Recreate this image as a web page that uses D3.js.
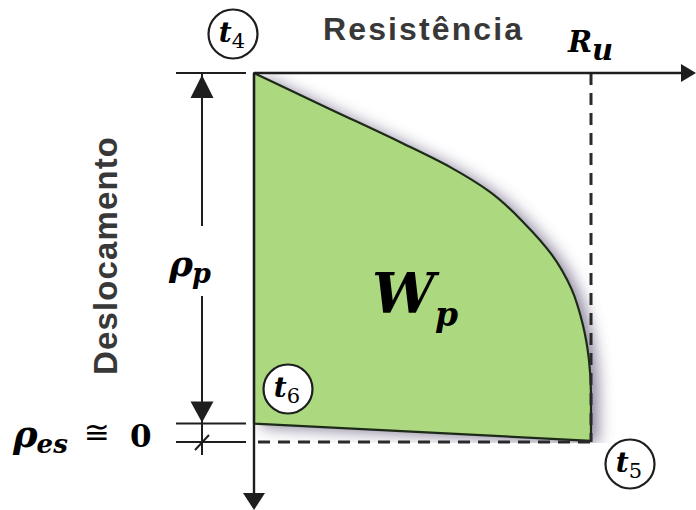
<!DOCTYPE html>
<html>
<head>
<meta charset="utf-8">
<script src="https://cdn.jsdelivr.net/npm/d3@7"></script>
<style>
  html, body { margin: 0; padding: 0; background: #fff; }
  svg { display: block; }
</style>
</head>
<body>
<svg id="chart" width="696" height="510"></svg>
<script>
// Plastic work region W_p: resistance (% of R_u) against displacement (% of total)
const resistance   = [0, 22.6, 43.3, 58.2, 70.0, 80.4, 88.4, 94.1, 97.6, 99.4, 100, 100];
const displacement = [0, 9.8, 18.7, 25.5, 32.2, 40.9, 49.3, 58.3, 68.3, 77.8, 87.3, 99.7];
// displacement where the region closes on the left axis (end of elastic part)
const elasticEnd = 95;
const ruValue = 100;
const totalDisp = 100;

const stageLabels = ["4", "5", "6"];
const axisTitles = { x: "Resistência", y: "Deslocamento" };

const svg = d3.select("#chart");
const x = d3.scaleLinear().domain([0, ruValue]).range([254, 591]);
const y = d3.scaleLinear().domain([0, totalDisp]).range([73, 442]);

const ink = "#1e1e1e";
const serif = "'DejaVu Serif', 'Liberation Serif', serif";
const sans = "'Liberation Sans', Arial, sans-serif";

const defs = svg.append("defs");
const blur = defs.append("filter").attr("id", "soft")
  .attr("x", "-20%").attr("y", "-20%").attr("width", "140%").attr("height", "140%");
blur.append("feGaussianBlur").attr("stdDeviation", 8);
defs.append("clipPath").attr("id", "plotClip")
  .append("rect").attr("x", x(0)).attr("y", y(0))
  .attr("width", 696 - x(0)).attr("height", y(totalDisp) + 1 - y(0));

// region outline: curved upper/right boundary then straight bottom edge back to the axis
const pts = resistance.map((r, i) => [r, displacement[i]]);
const curve = d3.line().x(d => x(d[0])).y(d => y(d[1])).curve(d3.curveMonotoneY);
const regionPath = curve(pts) + `L${x(0)},${y(elasticEnd)}Z`;

// soft shadow behind the region
svg.append("g").attr("clip-path", "url(#plotClip)")
  .append("path").attr("d", regionPath)
  .attr("transform", "translate(7,3)")
  .attr("fill", "#6a6080").attr("opacity", 0.8)
  .attr("filter", "url(#soft)");

svg.append("path").attr("d", regionPath)
  .attr("fill", "#acd880").attr("stroke", "#1d2a18").attr("stroke-width", 2.2)
  .attr("stroke-linejoin", "round");

// dashed guides at R_u and at total displacement
svg.append("line")
  .attr("x1", x(ruValue)).attr("x2", x(ruValue)).attr("y1", y(0)).attr("y2", y(totalDisp))
  .attr("stroke", "#2a2a2a").attr("stroke-width", 3).attr("stroke-dasharray", "12,8");
svg.append("line")
  .attr("x1", x(0) + 4).attr("x2", x(ruValue)).attr("y1", y(totalDisp)).attr("y2", y(totalDisp))
  .attr("stroke", "#2a2a2a").attr("stroke-width", 3).attr("stroke-dasharray", "12,8");

// axes
function arrowHead(tipX, tipY, dir, len, half) {
  let p;
  if (dir === "right") p = [[tipX, tipY], [tipX - len, tipY - half], [tipX - len, tipY + half]];
  if (dir === "down")  p = [[tipX, tipY], [tipX - half, tipY - len], [tipX + half, tipY - len]];
  if (dir === "up")    p = [[tipX, tipY], [tipX - half, tipY + len], [tipX + half, tipY + len]];
  svg.append("path").attr("d", d3.line()(p) + "Z").attr("fill", ink);
}
svg.append("line").attr("x1", x(0)).attr("x2", 688).attr("y1", y(0)).attr("y2", y(0))
  .attr("stroke", ink).attr("stroke-width", 2.4);
arrowHead(696, y(0), "right", 15, 9);
svg.append("line").attr("x1", x(0)).attr("x2", x(0)).attr("y1", y(0)).attr("y2", 500)
  .attr("stroke", ink).attr("stroke-width", 2.4);
arrowHead(x(0), 510, "down", 17, 11);

// dimension line for rho_p and rho_es
const dimX = 202;
[y(0), y(elasticEnd), y(totalDisp)].forEach(v => {
  svg.append("line").attr("x1", 176).attr("x2", 246).attr("y1", v).attr("y2", v)
    .attr("stroke", ink).attr("stroke-width", 2);
});
svg.append("line").attr("x1", dimX).attr("x2", dimX).attr("y1", y(0)).attr("y2", 226)
  .attr("stroke", ink).attr("stroke-width", 2);
svg.append("line").attr("x1", dimX).attr("x2", dimX).attr("y1", 296).attr("y2", 455)
  .attr("stroke", ink).attr("stroke-width", 2);
arrowHead(dimX, y(0) + 2, "up", 23, 11.5);
arrowHead(dimX, y(elasticEnd) - 1, "down", 21, 11.5);
svg.append("line").attr("x1", dimX - 7).attr("x2", dimX + 7)
  .attr("y1", y(totalDisp) + 8).attr("y2", y(totalDisp) - 7)
  .attr("stroke", ink).attr("stroke-width", 2);

// axis titles
svg.append("text").attr("x", 323).attr("y", 40)
  .attr("font-family", sans).attr("font-weight", "bold").attr("font-size", 32)
  .attr("fill", "#383838").attr("textLength", 199).attr("lengthAdjust", "spacing")
  .text(axisTitles.x);
svg.append("text").attr("transform", "translate(117,256) rotate(-90)")
  .attr("text-anchor", "middle")
  .attr("font-family", sans).attr("font-weight", "bold").attr("font-size", 33)
  .attr("fill", "#383838").attr("textLength", 238).attr("lengthAdjust", "spacing")
  .text(axisTitles.y);

// math labels
function mathLabel(px, py, main, sub, size, subSize, subDy, dx = 0) {
  const t = svg.append("text").attr("x", px).attr("y", py)
    .attr("font-family", serif).attr("font-weight", "bold").attr("fill", "#000");
  t.append("tspan").attr("font-style", "italic").attr("font-size", size).text(main);
  t.append("tspan").attr("font-style", "italic")
    .attr("font-size", subSize).attr("dy", subDy).attr("dx", dx).text(sub);
  return t;
}
mathLabel(568, 52, "R", "u", 29, 29, 8, 0);
mathLabel(169, 276, "ρ", "p", 36, 27, 7, -1);
mathLabel(372, 313, "W", "p", 56, 33, 13, 0);

mathLabel(13, 447, "ρ", "es", 37, 26, 6, -1);
svg.append("text").attr("x", 84).attr("y", 443)
  .attr("font-family", "'DejaVu Sans', sans-serif").attr("font-size", 31).attr("fill", "#000")
  .text("≅");
svg.append("text").attr("x", 130).attr("y", 447)
  .attr("font-family", serif).attr("font-weight", "bold").attr("font-size", 31).attr("fill", "#000")
  .text("0");

// stage markers t4, t5, t6
const markers = [
  { id: stageLabels[0], cx: 233, cy: 34 },
  { id: stageLabels[1], cx: 630, cy: 464 },
  { id: stageLabels[2], cx: 288, cy: 389 }
];
markers.forEach(m => {
  svg.append("circle").attr("cx", m.cx).attr("cy", m.cy).attr("r", 24.5)
    .attr("fill", "#fff").attr("stroke", ink).attr("stroke-width", 2.2);
  const t = svg.append("text").attr("x", m.cx - 1).attr("y", m.cy + 8)
    .attr("text-anchor", "middle").attr("font-family", serif).attr("fill", "#000");
  t.append("tspan").attr("font-style", "italic").attr("font-weight", "bold")
    .attr("font-size", 28).text("t");
  t.append("tspan").attr("font-size", 21).attr("dy", 6).text(m.id);
});
</script>
</body>
</html>
